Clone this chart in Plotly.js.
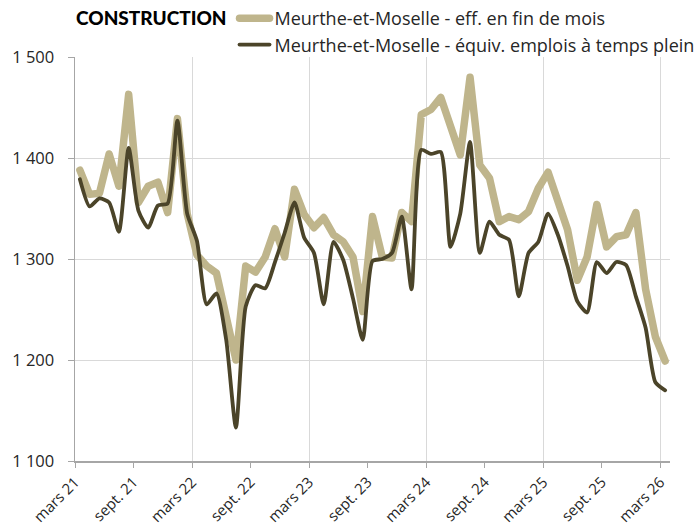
<!DOCTYPE html>
<html>
<head>
<meta charset="utf-8">
<script src="https://cdn.plot.ly/plotly-3.0.1.min.js"></script>
<style>
html,body{margin:0;padding:0;background:#fff;}
#chart{width:695px;height:532px;}
.js-line{stroke-linejoin:round;stroke-linecap:round;}
</style>
</head>
<body>
<div id="chart"></div>
<script>
// Tick labels (every 6 months, starting mars 21)
const tickLabels = ['mars 21','sept. 21','mars 22','sept. 22','mars 23','sept. 23','mars 24','sept. 24','mars 25','sept. 25','mars 26'];

// Series names
const seriesNames = ['Meurthe-et-Moselle - eff. en fin de mois', 'Meurthe-et-Moselle - équiv. emplois à temps plein'];

// Monthly values, mars 21 -> mars 26
const effFinDeMois = [1388,1364,1365,1404,1372,1463,1356,1372,1376,1346,1439,1345,
  1304,1293,1286,1243,1200,1293,1287,1302,1330,1302,1369,1344,
  1331,1341,1324,1317,1302,1248,1342,1302,1301,1346,1337,1443,
  1448,1460,1430,1403,1480,1393,1380,1337,1342,1339,1347,1370,
  1386,1359,1329,1279,1302,1354,1312,1322,1324,1346,1270,1223,1199];

const equivTempsPlein = [1379,1352,1360,1356,1327,1410,1348,1331,1353,1355,1437,1345,
  1318,1255,1266,1220,1133,1253,1274,1271,1297,1326,1356,1321,
  1306,1255,1317,1299,1261,1220,1298,1300,1306,1342,1270,1408,
  1404,1406,1312,1345,1416,1306,1337,1324,1319,1263,1306,1317,
  1345,1324,1293,1258,1247,1297,1286,1297,1294,1263,1232,1178,1170];

const xIdx = effFinDeMois.map((_, i) => i);
const halfTickVals = tickLabels.map((_, k) => k * 6 - 0.5);
const yearTickVals = halfTickVals.filter((_, k) => k % 2 === 0);

const FONT = 'Open Sans, sans-serif';
const gridColor = '#D9D9D9';
const axisColor = '#A6A6A6';

const traces = [
  {
    x: xIdx, y: effFinDeMois, name: seriesNames[0],
    type: 'scatter', mode: 'lines',
    line: {color: '#BFB58C', width: 7.5},
    xaxis: 'x', yaxis: 'y', hoverinfo: 'y'
  },
  {
    x: xIdx, y: equivTempsPlein, name: seriesNames[1],
    type: 'scatter', mode: 'lines',
    line: {color: '#4B4429', width: 3.8, shape: 'spline', smoothing: 0.6},
    xaxis: 'x2', yaxis: 'y', hoverinfo: 'y'
  }
];

const layout = {
  width: 695, height: 532,
  margin: {l: 75, r: 25, t: 57, b: 71, autoexpand: false},
  paper_bgcolor: '#fff', plot_bgcolor: '#fff',
  separators: ', ',
  font: {family: FONT, color: '#262626'},
  showlegend: true,
  legend: {
    xref: 'container', yref: 'container',
    x: 74 / 695, xanchor: 'left', y: 1 + 1 / 532, yanchor: 'top',
    orientation: 'v',
    bgcolor: 'rgba(0,0,0,0)',
    font: {family: FONT, size: 18, color: '#262626'},
    tracegroupgap: 0,
    itemwidth: 30,
    title: {text: 'CONSTRUCTION', side: 'left', font: {family: 'Lato, sans-serif', size: 19, weight: 900, color: '#000'}}
  },
  xaxis: {
    range: [-0.5, 60.5],
    tickmode: 'array', tickvals: halfTickVals, ticktext: tickLabels,
    tickangle: -45, tickfont: {family: FONT, size: 15, color: '#262626'},
    ticks: 'outside', ticklen: 5, tickcolor: axisColor,
    showgrid: false, zeroline: false,
    showline: true, linecolor: axisColor, linewidth: 1.5
  },
  xaxis2: {
    overlaying: 'x', matches: 'x',
    tickmode: 'array', tickvals: yearTickVals,
    showticklabels: false, ticks: '',
    showgrid: true, gridcolor: gridColor, gridwidth: 1,
    zeroline: false, showline: false
  },
  yaxis: {
    range: [1100, 1500], dtick: 100, tick0: 1100,
    separatethousands: true,
    tickfont: {family: FONT, size: 16.5, color: '#262626'},
    ticks: 'outside', ticklen: 6, tickcolor: axisColor,
    ticklabelstandoff: 10,
    showgrid: true, gridcolor: gridColor, gridwidth: 1,
    zeroline: false,
    showline: true, linecolor: axisColor, linewidth: 1.5
  }
};

Plotly.newPlot('chart', traces, layout, {displayModeBar: false, staticPlot: true});
</script>
</body>
</html>
